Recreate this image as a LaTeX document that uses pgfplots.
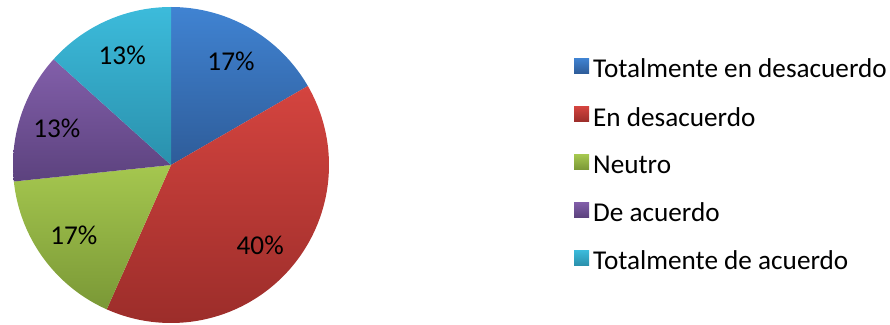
\documentclass[border=0pt]{standalone}
\usepackage{pgfplots}
\pgfplotsset{compat=1.18}
\usepackage{pgfplotstable}
\usepackage{fontspec}
\setmainfont{Carlito}

\definecolor{bTop}{HTML}{4083D2}
\definecolor{bBot}{HTML}{2E5C99}
\definecolor{rTop}{HTML}{D4443F}
\definecolor{rBot}{HTML}{9C2D2A}
\definecolor{gTop}{HTML}{A5C74F}
\definecolor{gBot}{HTML}{7A9836}
\definecolor{pTop}{HTML}{825FAA}
\definecolor{pBot}{HTML}{5C427E}
\definecolor{cTop}{HTML}{3CBBDB}
\definecolor{cBot}{HTML}{2A90AC}

\pgfplotstableread{
value
5
12
5
4
4
}\piedata

\newcommand\slice[3]{%
  \edef\dA{\csname ea#1\endcsname}%
  \edef\dB{\csname sa#1\endcsname}%
  \addplot[draw=none, top color=#2, bottom color=#3, domain=\dA:\dB,
    samples=120, variable=\t]
    ({171+158*cos(\t)},{159+158*sin(\t)}) -- (axis cs:171,159) -- cycle;
}
\newcommand\bigf{\fontsize{27.2}{32}\selectfont}

\begin{document}
\begin{tikzpicture}
\gdef\pietot{0}
\foreach \i in {0,...,4}{%
  \pgfplotstablegetelem{\i}{value}\of\piedata
  \pgfmathsetmacro\pietmp{\pietot+\pgfplotsretval}%
  \xdef\pietot{\pietmp}}
\gdef\piecum{0}
\foreach \i in {0,...,4}{%
  \pgfplotstablegetelem{\i}{value}\of\piedata
  \edef\pv{\pgfplotsretval}%
  \pgfmathsetmacro\ps{90-360*\piecum/\pietot}%
  \pgfmathsetmacro\pe{90-360*(\piecum+\pv)/\pietot}%
  \pgfmathsetmacro\pm{(\ps+\pe)/2}%
  \pgfmathsetmacro\plx{171+120*cos(\pm)}%
  \pgfmathsetmacro\ply{159+120*sin(\pm)}%
  \pgfmathtruncatemacro\ppc{round(100*\pv/\pietot)}%
  \pgfmathsetmacro\pc{\piecum+\pv}%
  \xdef\piecum{\pc}%
  \expandafter\xdef\csname sa\i\endcsname{\ps}%
  \expandafter\xdef\csname ea\i\endcsname{\pe}%
  \expandafter\xdef\csname lx\i\endcsname{\plx}%
  \expandafter\xdef\csname ly\i\endcsname{\ply}%
  \expandafter\xdef\csname pc\i\endcsname{\ppc}%
}
\begin{axis}[
  x=1pt, y=1pt, xmin=0, xmax=890, ymin=0, ymax=324,
  hide axis, clip=false,
  legend image code/.code={\path[#1,draw=none] (0pt,-4pt) rectangle (15pt,11pt);},
  legend style={at={(axis cs:574,266)}, anchor=north west, draw=none, fill=none,
    font=\bigf, row sep=27pt, inner sep=0pt,
    nodes={inner sep=0pt}, cells={anchor=west}, column sep=4pt},
]
\slice{0}{bTop}{bBot}
\slice{1}{rTop}{rBot}
\slice{2}{gTop}{gBot}
\slice{3}{pTop}{pBot}
\slice{4}{cTop}{cBot}
\legend{Totalmente en desacuerdo, En desacuerdo, Neutro, De acuerdo, Totalmente de acuerdo}
\node[font=\bigf] at (axis cs:\csname lx0\endcsname,\csname ly0\endcsname) {\csname pc0\endcsname\%};
\node[font=\bigf] at (axis cs:\csname lx1\endcsname,\csname ly1\endcsname) {\csname pc1\endcsname\%};
\node[font=\bigf] at (axis cs:\csname lx2\endcsname,\csname ly2\endcsname) {\csname pc2\endcsname\%};
\node[font=\bigf] at (axis cs:\csname lx3\endcsname,\csname ly3\endcsname) {\csname pc3\endcsname\%};
\node[font=\bigf] at (axis cs:\csname lx4\endcsname,\csname ly4\endcsname) {\csname pc4\endcsname\%};
\end{axis}
\pgfresetboundingbox
\path (0,0) rectangle (890pt,324pt);
\end{tikzpicture}
\end{document}
